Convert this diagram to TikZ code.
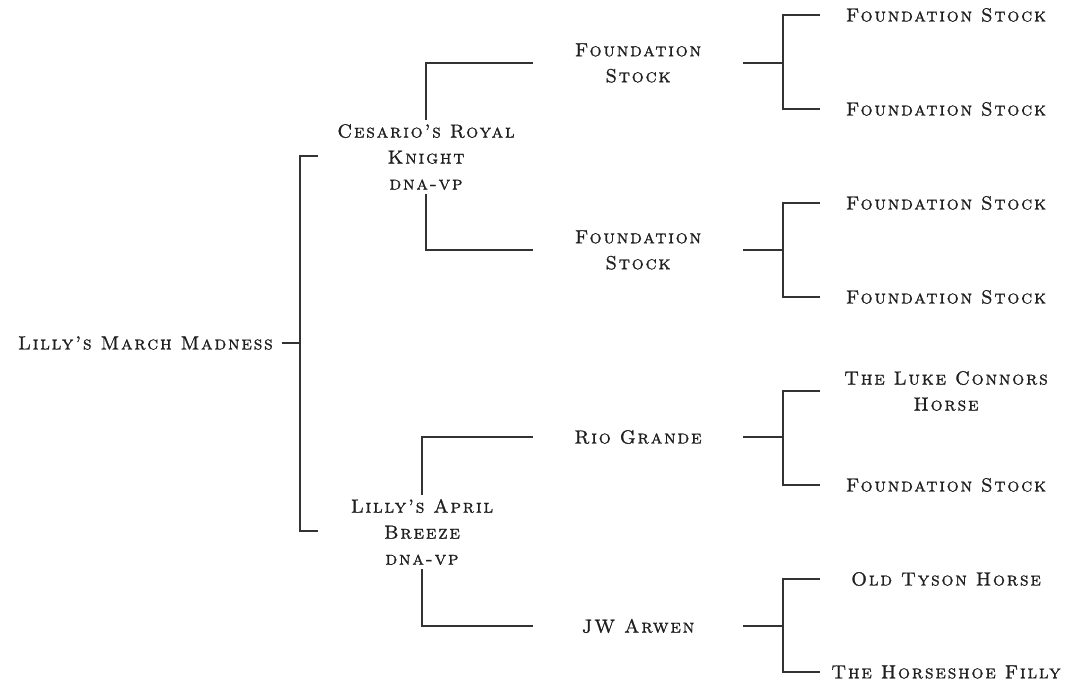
\documentclass[tikz,border=0pt]{standalone}
\usepackage{fontspec}
\setmainfont{Latin Modern Roman}[SmallCapsFont={Latin Modern Roman Caps}, SmallCapsFeatures={LetterSpace=9, FakeBold=1.1}]
\begin{document}
\begin{tikzpicture}[x=1pt,y=-1pt,
  every node/.style={font=\scshape\fontsize{19}{26}\selectfont, align=center, text=black!88, inner xsep=0pt, inner ysep=4pt},
  gentwo/.style={minimum width=210pt},
  leaf/.style={minimum width=252pt},
  wire/.style={line width=1.1pt, draw=black!80}]
\useasboundingbox (0,0) rectangle (1067,684);
% nodes
\node[anchor=east, inner xsep=9pt] (r) at (282,343) {Lilly's March Madness};
\node (c1) at (426,157) {Cesario's Royal\\Knight\\dna-vp};
\node (c2) at (422,532) {Lilly's April\\Breeze\\dna-vp};
\node[gentwo] (f1) at (638,63) {Foundation\\Stock};
\node[gentwo] (f2) at (638,250) {Foundation\\Stock};
\node[gentwo] (f3) at (638,437) {Rio Grande};
\node[gentwo] (f4) at (638,626) {JW Arwen};
\node[leaf] (l1) at (946,15) {Foundation Stock};
\node[leaf] (l2) at (946,109) {Foundation Stock};
\node[leaf] (l3) at (946,203) {Foundation Stock};
\node[leaf] (l4) at (946,297) {Foundation Stock};
\node[leaf] (l5) at (946,391) {The Luke Connors\\Horse};
\node[leaf] (l6) at (946,485) {Foundation Stock};
\node[leaf] (l7) at (946,579) {Old Tyson Horse};
\node[leaf] (l8) at (946,672) {The Horseshoe Filly};
% junctions
\coordinate (jr) at (300,343);
\coordinate (a1) at (318,156);
\coordinate (a2) at (318,531);
\coordinate (j1) at (783,63);
\coordinate (j2) at (783,250);
\coordinate (j3) at (783,437);
\coordinate (j4) at (783,626);
% connectors
\draw[wire] (r.east) -- (jr);
\draw[wire] (a1) -| (jr) |- (a2);
\draw[wire] (c1.north) |- (f1.west);
\draw[wire] (c1.south) |- (f2.west);
\draw[wire] (c2.north) |- (f3.west);
\draw[wire] (c2.south) |- (f4.west);
\draw[wire] (f1.east) -- (j1);
\draw[wire] (f2.east) -- (j2);
\draw[wire] (f3.east) -- (j3);
\draw[wire] (f4.east) -- (j4);
\draw[wire] (l1.west) -| (j1) |- (l2.west);
\draw[wire] (l3.west) -| (j2) |- (l4.west);
\draw[wire] (l5.west) -| (j3) |- (l6.west);
\draw[wire] (l7.west) -| (j4) |- (l8.west);
\end{tikzpicture}
\end{document}
